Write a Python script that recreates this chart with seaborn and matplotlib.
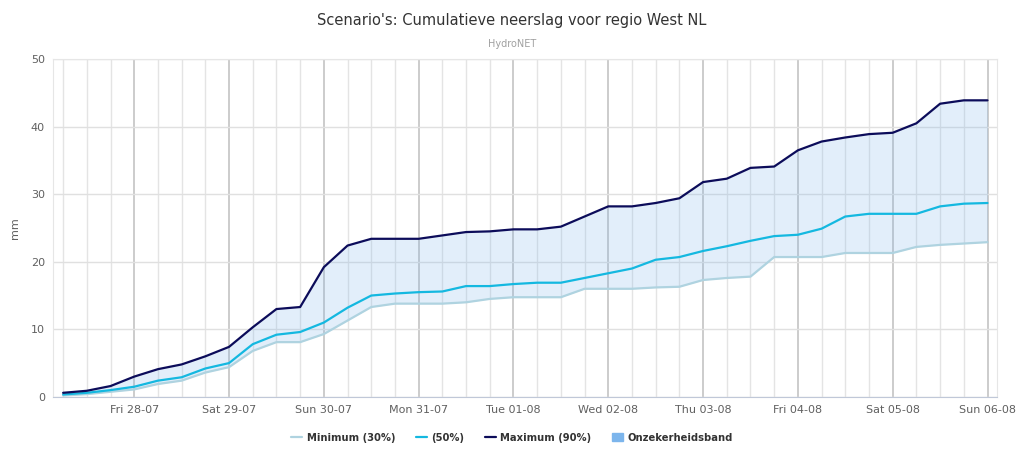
import pandas as pd
import seaborn as sns
import matplotlib.pyplot as plt
import matplotlib.dates as mdates
from matplotlib.lines import Line2D
from matplotlib.patches import Patch

# 6-hourly cumulative rainfall scenarios (mm)
times = pd.date_range('2017-07-27 06:00', periods=40, freq='6h')
minimum = [0.2, 0.4, 0.75, 1.1, 1.9, 2.4, 3.6, 4.4, 6.8, 8.1,
           8.1, 9.3, 11.3, 13.3, 13.8, 13.8, 13.8, 14.0, 14.5, 14.75,
           14.75, 14.75, 16.0, 16.0, 16.0, 16.2, 16.3, 17.3, 17.6, 17.8,
           20.7, 20.7, 20.7, 21.3, 21.3, 21.3, 22.2, 22.5, 22.7, 22.9]
median = [0.35, 0.6, 1.0, 1.5, 2.4, 2.9, 4.2, 5.0, 7.8, 9.2,
          9.6, 11.0, 13.2, 15.0, 15.3, 15.5, 15.6, 16.4, 16.4, 16.7,
          16.9, 16.9, 17.6, 18.3, 19.0, 20.3, 20.7, 21.6, 22.3, 23.1,
          23.8, 24.0, 24.9, 26.7, 27.1, 27.1, 27.1, 28.2, 28.6, 28.7]
maximum = [0.6, 0.9, 1.6, 3.0, 4.1, 4.8, 6.0, 7.4, 10.3, 13.0,
           13.3, 19.2, 22.4, 23.4, 23.4, 23.4, 23.9, 24.4, 24.5, 24.8,
           24.8, 25.2, 26.7, 28.2, 28.2, 28.7, 29.4, 31.8, 32.3, 33.9,
           34.1, 36.5, 37.8, 38.4, 38.9, 39.1, 40.5, 43.4, 43.9, 43.9]
labels = ['Minimum (30%)', '(50%)', 'Maximum (90%)', 'Onzekerheidsband']

df = pd.DataFrame({'time': times, 'min': minimum, 'med': median, 'max': maximum})

sns.set_style('white')
plt.rcParams['font.family'] = ['DejaVu Sans']

fig = plt.figure(figsize=(10.24, 4.62), dpi=100)
ax = fig.add_axes([0.052, 0.141, 0.922, 0.731])

ax.fill_between(df['time'], df['min'], df['max'], color='#7cb5ec', alpha=0.22, linewidth=0, zorder=1)
sns.lineplot(data=df, x='time', y='min', color='#afd3e0', linewidth=1.6, ax=ax, zorder=3)
sns.lineplot(data=df, x='time', y='med', color='#14b8e0', linewidth=1.6, ax=ax, zorder=3)
sns.lineplot(data=df, x='time', y='max', color='#0c0c5a', linewidth=1.6, ax=ax, zorder=3)

pad = pd.Timedelta(hours=2.5)
ax.set_xlim(times[0] - pad, times[-1] + pad)
ax.set_ylim(0, 50)
ax.set_yticks(range(0, 51, 10))

ax.xaxis.set_major_locator(mdates.DayLocator())
ax.xaxis.set_major_formatter(mdates.DateFormatter('%a %d-%m'))
ax.xaxis.set_minor_locator(mdates.HourLocator(byhour=[0, 6, 12, 18]))
ax.grid(which='minor', axis='x', color='#e4e4e4', linewidth=1, zorder=0)
ax.grid(which='major', axis='x', color='#c8c8c8', linewidth=1.3, zorder=0)
ax.grid(which='major', axis='y', color='#e0e0e0', linewidth=1, zorder=0)
ax.set_axisbelow(True)

ax.tick_params(axis='both', which='both', length=0, labelsize=8, colors='#606060', pad=6)
ax.set_xlabel('')
ax.set_ylabel('mm', fontsize=8, color='#606060', labelpad=8)
for s in ax.spines.values():
    s.set_color('#e6e6e6')
ax.spines['bottom'].set_color('#c0c8d8')

fig.text(0.5, 0.955, "Scenario's: Cumulatieve neerslag voor regio West NL", ha='center', va='center',
         fontsize=10.5, color='#333333')
fig.text(0.5, 0.905, 'HydroNET', ha='center', va='center', fontsize=7, color='#a0a0a0')

handles = [Line2D([], [], color='#afd3e0', lw=1.6),
           Line2D([], [], color='#14b8e0', lw=1.6),
           Line2D([], [], color='#0c0c5a', lw=1.6),
           Patch(color='#7cb5ec')]
leg = fig.legend(handles, labels, loc='center', bbox_to_anchor=(0.5, 0.053), ncol=4, frameon=False,
                 handlelength=1.1, handleheight=0.9, columnspacing=2.0, handletextpad=0.5,
                 prop={'weight': 'bold', 'size': 7.2})
for t in leg.get_texts():
    t.set_color('#333333')

fig.savefig('out.png', dpi=100)
